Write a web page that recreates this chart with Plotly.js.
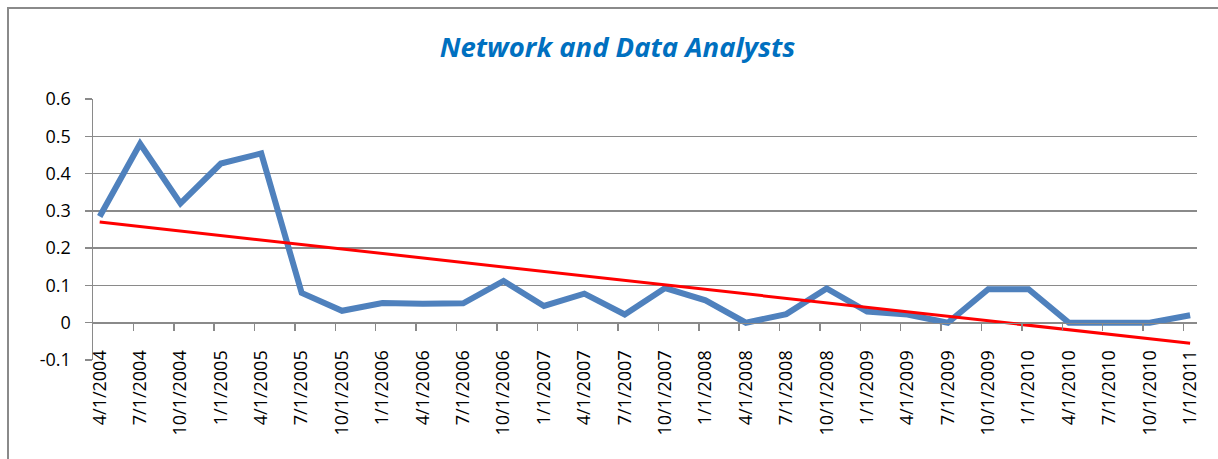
<!DOCTYPE html>
<html>
<head>
<meta charset="utf-8">
<script src="https://cdn.plot.ly/plotly-3.0.1.min.js"></script>
<style>
  html, body { margin: 0; padding: 0; background: #fff; }
  #frame { position: absolute; left: 7px; top: 7px; width: 1211px; height: 452px;
           border-left: 2px solid #8a8a8a; border-top: 2px solid #8a8a8a; box-sizing: border-box; }
  #chart { position: absolute; left: 0; top: 0; width: 1218px; height: 459px; }
</style>
</head>
<body>
<div id="frame"></div>
<div id="chart"></div>
<script>
// Quarterly category labels
const dateLabels = [
  "4/1/2004", "7/1/2004", "10/1/2004", "1/1/2005", "4/1/2005", "7/1/2005", "10/1/2005",
  "1/1/2006", "4/1/2006", "7/1/2006", "10/1/2006", "1/1/2007", "4/1/2007", "7/1/2007",
  "10/1/2007", "1/1/2008", "4/1/2008", "7/1/2008", "10/1/2008", "1/1/2009", "4/1/2009",
  "7/1/2009", "10/1/2009", "1/1/2010", "4/1/2010", "7/1/2010", "10/1/2010", "1/1/2011"
];
// Series values
const analystValues = [
  0.285, 0.48, 0.32, 0.427, 0.454, 0.08, 0.032,
  0.053, 0.051, 0.052, 0.112, 0.045, 0.078, 0.022,
  0.093, 0.06, 0.0, 0.023, 0.092, 0.03, 0.022,
  0.0, 0.09, 0.09, 0.0, 0.0, 0.0, 0.02
];
// Linear trendline end values
const trendStart = 0.27;
const trendEnd = -0.055;
const yTicks = [-0.1, 0, 0.1, 0.2, 0.3, 0.4, 0.5, 0.6];
const yTickText = ["-0.1", "0", "0.1", "0.2", "0.3", "0.4", "0.5", "0.6"];

const idx = dateLabels.map((_, i) => i);
const n = dateLabels.length;

const font = "Open Sans, Lato, sans-serif";

const traces = [
  {
    x: idx, y: analystValues, type: "scatter", mode: "lines",
    line: { color: "#4F81BD", width: 6, shape: "linear" },
    hoverinfo: "skip", showlegend: false, xaxis: "x", yaxis: "y"
  },
  {
    x: [0, n - 1], y: [trendStart, trendEnd], type: "scatter", mode: "lines",
    line: { color: "#FF0000", width: 3 },
    hoverinfo: "skip", showlegend: false, xaxis: "x", yaxis: "y"
  }
];

const xRange = [-0.166, n - 1 + 0.17];
const zeroPos = (0 - (-0.1)) / (0.6 - (-0.1));

const layout = {
  width: 1218, height: 459,
  margin: { l: 93, r: 21, t: 99, b: 99 },
  paper_bgcolor: "rgba(0,0,0,0)",
  plot_bgcolor: "rgba(0,0,0,0)",
  title: {
    text: "<b><i>Network and Data Analysts</i></b>",
    font: { family: font, size: 27.5, color: "#0070C0" },
    x: 0.507, xref: "container", xanchor: "center",
    y: 1 - 47 / 459, yref: "container", yanchor: "middle"
  },
  xaxis: {
    range: xRange, anchor: "free", position: zeroPos,
    tickmode: "array", tickvals: idx, ticktext: dateLabels,
    tickangle: -90, ticks: "", showgrid: false, zeroline: false, showline: false,
    tickfont: { family: font, size: 18, color: "#000" },
    ticklabelstandoff: 23
  },
  xaxis2: {
    overlaying: "x", matches: "x", range: xRange, anchor: "free", position: zeroPos,
    tickmode: "array", tickvals: idx.slice(0, n - 1).map(i => i + 0.834),
    ticks: "outside", ticklen: 7, tickwidth: 1.5, tickcolor: "#8a8a8a",
    showticklabels: false, showgrid: false, zeroline: false,
    showline: true, linecolor: "#8a8a8a", linewidth: 1.5
  },
  yaxis: {
    range: [-0.1, 0.6], tickmode: "array", tickvals: yTicks, ticktext: yTickText,
    ticks: "outside", ticklen: 7, tickwidth: 1.5, tickcolor: "#8a8a8a",
    showgrid: true, gridcolor: "#8a8a8a", gridwidth: 1.5,
    zeroline: false, showline: true, linecolor: "#8a8a8a", linewidth: 1.5,
    tickfont: { family: font, size: 18, color: "#000" },
    ticklabelstandoff: 10
  },
  showlegend: false
};

// dummy trace so xaxis2 is drawn
traces.push({ x: [0], y: [null], xaxis: "x2", yaxis: "y", type: "scatter", mode: "lines",
  hoverinfo: "skip", showlegend: false });

Plotly.newPlot("chart", traces, layout, { displayModeBar: false, staticPlot: true });
</script>
</body>
</html>
